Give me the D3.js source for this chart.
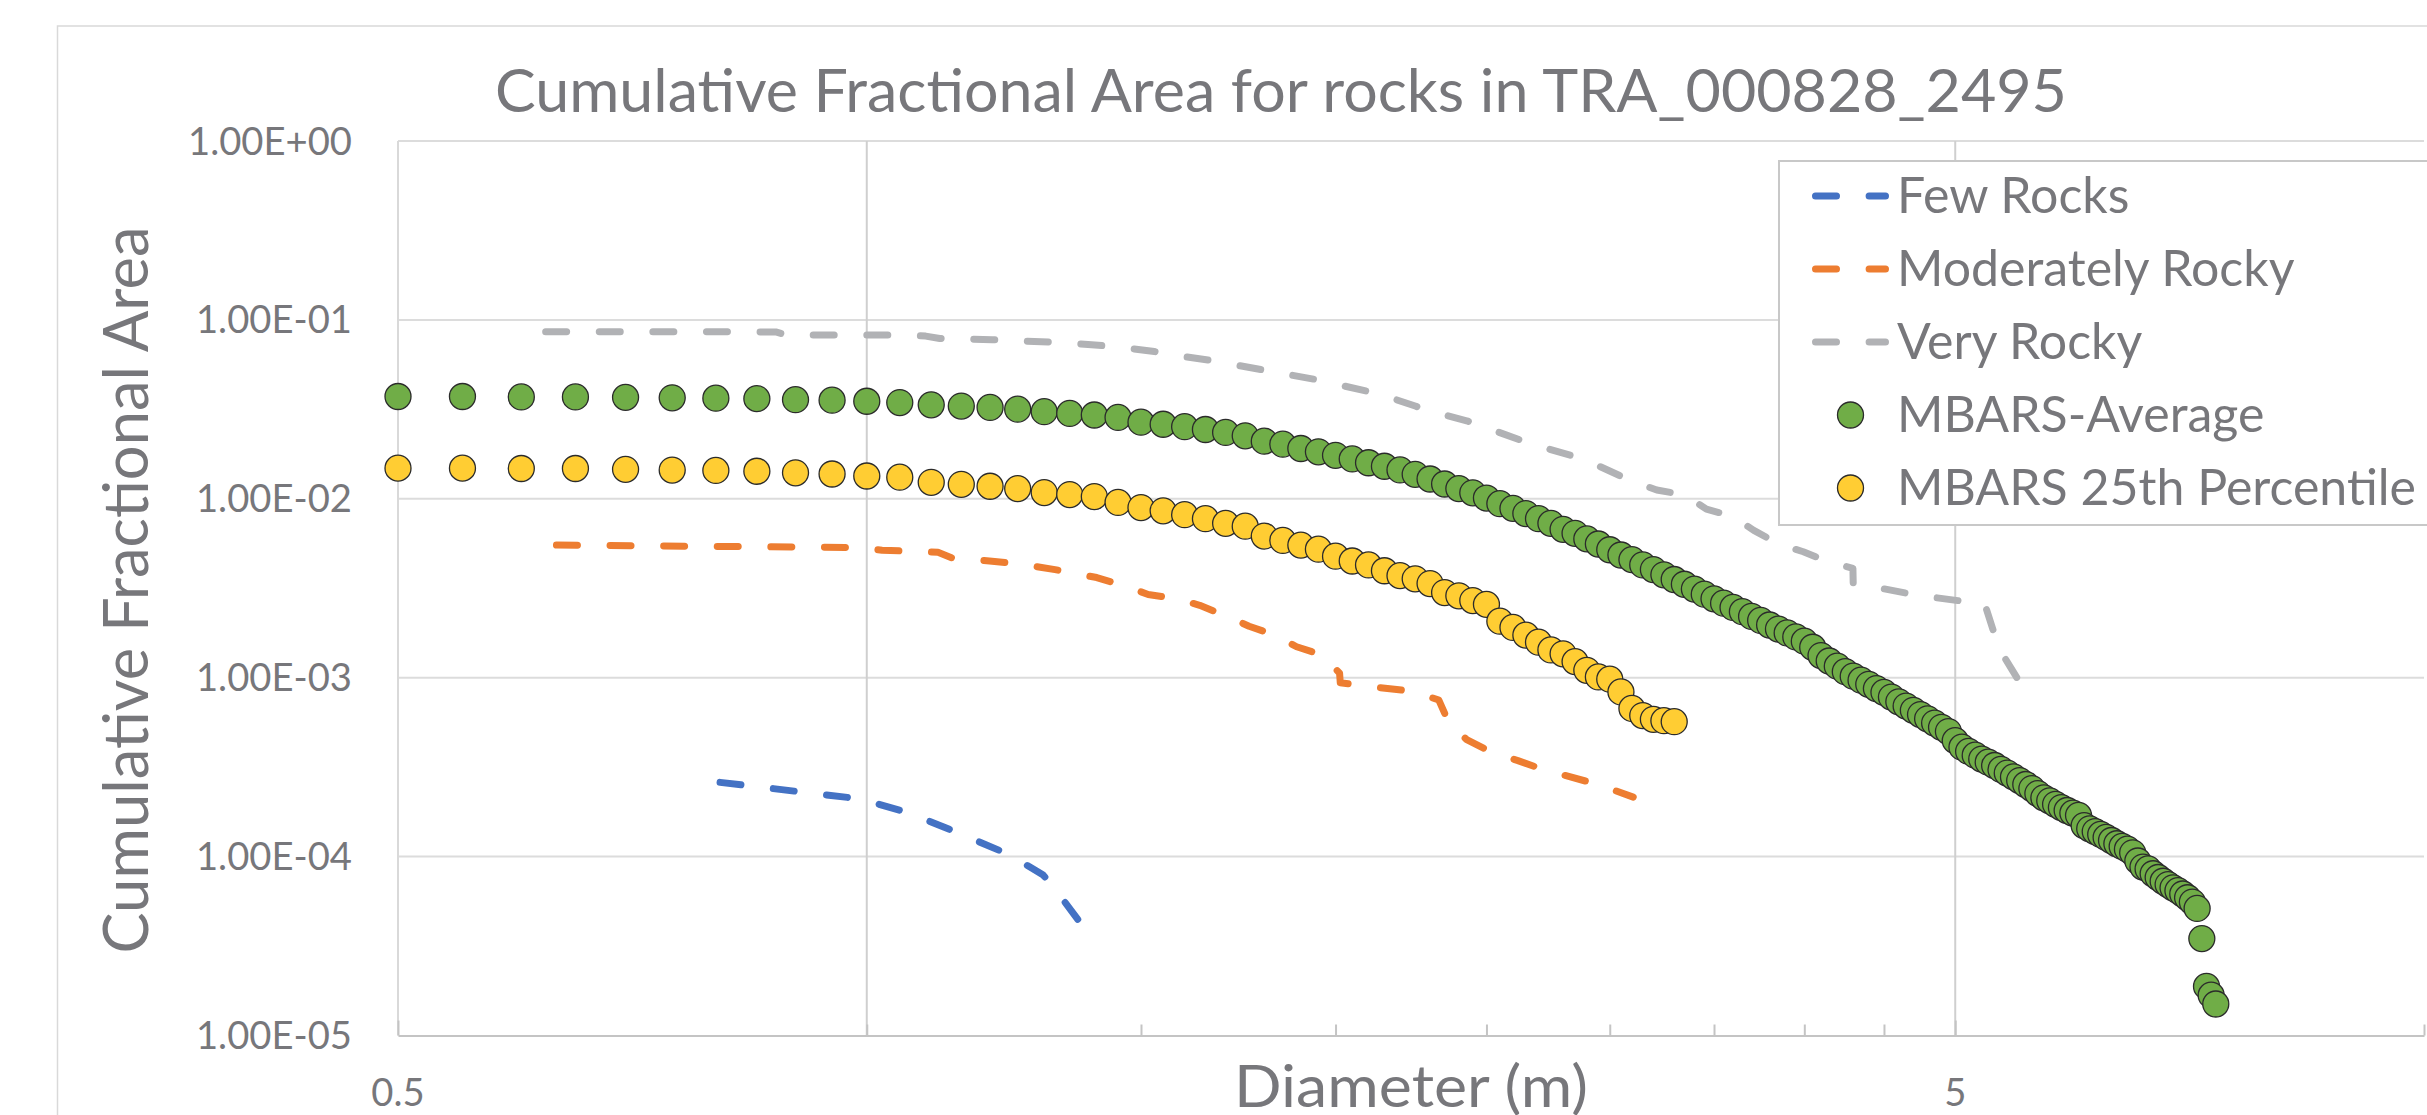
<!DOCTYPE html>
<html>
<head>
<meta charset="utf-8">
<script src="https://cdn.jsdelivr.net/npm/d3@7"></script>
<style>
  html, body { margin: 0; padding: 0; background: #fff; }
  svg { display: block; }
</style>
</head>
<body>
<svg id="chart" width="2427" height="1115"></svg>
<script>
// Cumulative fractional area for rocks in TRA_000828_2495 (log-log)

// diameter bins (m) used by both MBARS series
const binDiameters = [
  0.5, 0.55, 0.6, 0.65, 0.7, 0.75, 0.8, 0.85, 0.9, 0.95,
  1.0, 1.05, 1.1, 1.15, 1.2, 1.25, 1.3, 1.35, 1.4, 1.45,
  1.5, 1.55, 1.6, 1.65, 1.7, 1.75, 1.8, 1.85, 1.9, 1.95,
  2.0, 2.05, 2.1, 2.15, 2.2, 2.25, 2.3, 2.35, 2.4, 2.45,
  2.5, 2.55, 2.6, 2.65, 2.7, 2.75, 2.8, 2.85, 2.9, 2.95,
  3.0, 3.05, 3.1, 3.15, 3.2, 3.25, 3.3, 3.35, 3.4, 3.45,
  3.5, 3.55, 3.6, 3.65, 3.7, 3.75, 3.8, 3.85, 3.9, 3.95,
  4.0, 4.05, 4.1, 4.15, 4.2, 4.25, 4.3, 4.35, 4.4, 4.45,
  4.5, 4.55, 4.6, 4.65, 4.7, 4.75, 4.8, 4.85, 4.9, 4.95,
  5.0, 5.05, 5.1, 5.15, 5.2, 5.25, 5.3, 5.35, 5.4, 5.45,
  5.5, 5.55, 5.6, 5.65, 5.7, 5.75, 5.8, 5.85, 5.9, 5.95,
  6.0, 6.05, 6.1, 6.15, 6.2, 6.25, 6.3, 6.35, 6.4, 6.45,
  6.5, 6.55, 6.6, 6.65, 6.7, 6.75, 6.8, 6.85, 6.9, 6.95,
  7.0, 7.05, 7.1, 7.15, 7.2, 7.25, 7.3, 7.35
];

const mbarsAverage = [
  0.0373, 0.0373, 0.0371, 0.0371, 0.0369, 0.0367, 0.0365, 0.0363, 0.0358, 0.0356,
  0.0351, 0.0345, 0.0335, 0.0330, 0.0324, 0.0317, 0.0307, 0.0300, 0.0294, 0.0285,
  0.0268, 0.0261, 0.0253, 0.0244, 0.0235, 0.0225, 0.0210, 0.0202, 0.0191, 0.0183,
  0.0175, 0.0167, 0.0159, 0.0152, 0.0145, 0.0137, 0.0129, 0.0121, 0.0114, 0.0108,
  0.0101, 0.00939, 0.00884, 0.00827, 0.00774, 0.00729, 0.00675, 0.00641, 0.00597, 0.00559,
  0.00519, 0.00485, 0.00457, 0.00427, 0.00402, 0.00376, 0.00354, 0.00333, 0.00313, 0.00293,
  0.00276, 0.00261, 0.00247, 0.00234, 0.00220, 0.00209, 0.00197, 0.00187, 0.00178, 0.00169,
  0.00160, 0.00148, 0.00133, 0.00124, 0.00116, 0.00108, 0.00102, 0.000969, 0.000918, 0.000869,
  0.000828, 0.000779, 0.000733, 0.000694, 0.000657, 0.000622, 0.000589, 0.000558, 0.000528, 0.000500,
  0.000445, 0.000409, 0.000387, 0.000369, 0.000351, 0.000337, 0.000323, 0.000307, 0.000293, 0.000279,
  0.000266, 0.000253, 0.000240, 0.000225, 0.000213, 0.000205, 0.000196, 0.000188, 0.000181, 0.000175,
  0.000170, 0.000149, 0.000143, 0.000138, 0.000133, 0.000128, 0.000123, 0.000118, 0.000114, 0.000110,
  0.000105, 0.0000945, 0.0000874, 0.0000853, 0.0000802, 0.0000764, 0.0000728, 0.0000698, 0.0000669, 0.0000645,
  0.0000618, 0.0000589, 0.0000557, 0.0000513, 0.0000348, 0.0000188, 0.0000168, 0.0000150
];

const mbars25th = [
  0.01484, 0.01484, 0.01477, 0.01477, 0.01462, 0.01447, 0.01440, 0.01426, 0.01397, 0.01376,
  0.01341, 0.01321, 0.01236, 0.01205, 0.01175, 0.01140, 0.01083, 0.01056, 0.01029, 0.00954,
  0.00893, 0.00857, 0.00815, 0.00774, 0.00729, 0.00703, 0.00619, 0.00585, 0.00551, 0.00523,
  0.00478, 0.00449, 0.00427, 0.00396, 0.00372, 0.00357, 0.00336, 0.00299, 0.00287, 0.00270,
  0.00257, 0.00207, 0.00191, 0.00173, 0.00158, 0.00143, 0.00136, 0.00123, 0.00110, 0.00101,
  0.000981, 0.000833, 0.000673, 0.000614, 0.000585, 0.000575, 0.000568
];

// model curves (diameter, cumulative fractional area)
const fewRocksD = [0.805, 0.982, 0.991, 1.063, 1.144, 1.230, 1.276, 1.298, 1.314, 1.377];
const fewRocksA = [2.60e-4, 2.12e-4, 2.10e-4, 1.76e-4, 1.36e-4, 1.04e-4, 8.63e-5, 7.88e-5, 7.01e-5, 4.07e-5];

const moderateD = [0.632, 0.982, 1.023, 1.111, 1.134, 1.199, 1.25, 1.321, 1.352, 1.405,
  1.460, 1.516, 1.579, 1.636, 1.704, 1.760, 1.828, 1.888, 1.961, 2.012,
  2.014, 2.073, 2.243, 2.330, 2.365, 2.428, 2.522, 2.619, 2.721, 2.944, 3.106];
const moderateA = [5.51e-3, 5.34e-3, 5.16e-3, 5.02e-3, 4.68e-3, 4.49e-3, 4.34e-3, 4.02e-3, 3.86e-3, 3.63e-3,
  3.28e-3, 2.92e-3, 2.77e-3, 2.54e-3, 2.20e-3, 1.94e-3, 1.73e-3, 1.49e-3, 1.34e-3, 1.06e-3,
  9.38e-4, 9.05e-4, 8.39e-4, 7.50e-4, 5.58e-4, 4.51e-4, 3.81e-4, 3.44e-4, 3.06e-4, 2.54e-4, 2.15e-4];

const veryRockyD = [0.622, 0.874, 0.887, 1.050, 1.091, 1.114, 1.204, 1.230, 1.333, 1.387,
  1.444, 1.530, 1.561, 1.660, 1.828, 1.938, 2.132, 2.250, 2.296, 2.428,
  2.678, 2.885, 3.096, 3.216, 3.354, 3.461, 3.597, 3.712, 3.857, 3.994,
  4.150, 4.298, 4.300, 4.389, 4.739, 5.134, 5.225, 5.334, 5.543];
const veryRockyA = [0.0858, 0.0857, 0.0824, 0.0824, 0.0812, 0.0787, 0.0775, 0.0767, 0.0748, 0.0729,
  0.0708, 0.0666, 0.0642, 0.0595, 0.0511, 0.0466, 0.0386, 0.0330, 0.0310, 0.0273,
  0.0201, 0.0167, 0.0126, 0.0112, 0.0105, 0.00875, 0.00799, 0.00666, 0.00555, 0.00506,
  0.00443, 0.00409, 0.00335, 0.00327, 0.00288, 0.00263, 0.00256, 0.00146, 0.000843];

const yTicks = [1, 1e-1, 1e-2, 1e-3, 1e-4, 1e-5];
const xLabelTicks = [0.5, 5];
const xGridTicks = [1, 5];
const xMinorTicks = [1, 1.5, 2, 2.5, 3, 3.5, 4, 4.5, 10];

const legendNames = ["Few Rocks", "Moderately Rocky", "Very Rocky", "MBARS-Average", "MBARS 25th Percentile"];

const FONT = "Lato, 'Open Sans', sans-serif";
const CAP = 0.7165; // Lato cap height / em
const TEXT = "#77777b";
const colors = {
  few: "#4472c4",
  moderate: "#ed7d31",
  very: "#b1b2b5",
  average: "#70ad47",
  p25: "#ffcd33"
};

const svg = d3.select("#chart");

const x = d3.scaleLog().domain([0.5, 10]).range([398, 2424]);
const y = d3.scaleLog().domain([1e-5, 1]).range([1035.5, 141]);

// size text by cap height, then squeeze horizontally to the source width
// (the original uses a condensed Office font)
const squeeze = (sel, capPx, widthPx) => {
  sel.attr("font-size", capPx / CAP);
  const w = sel.node().getComputedTextLength();
  return widthPx / w;
};

// chart area border (cropped on the right/bottom like the source)
svg.append("rect")
  .attr("x", 57.5).attr("y", 26)
  .attr("width", 2600).attr("height", 1300)
  .attr("fill", "#fff")
  .attr("stroke", "#d9d9d9")
  .attr("stroke-width", 1.5);

// horizontal gridlines
svg.append("g")
  .selectAll("line")
  .data(yTicks.filter(d => d > 1e-5))
  .join("line")
  .attr("x1", x(0.5)).attr("x2", x(10))
  .attr("y1", d => y(d)).attr("y2", d => y(d))
  .attr("stroke", "#dcdcdc")
  .attr("stroke-width", 2);

// vertical gridlines + left axis line
svg.append("g")
  .selectAll("line")
  .data([0.5, ...xGridTicks])
  .join("line")
  .attr("x1", d => x(d)).attr("x2", d => x(d))
  .attr("y1", y(1)).attr("y2", y(1e-5))
  .attr("stroke", d => d === 0.5 ? "#d9d9d9" : "#cfcfcf")
  .attr("stroke-width", 2);

// bottom axis with inward ticks
const xAxisG = svg.append("g")
  .attr("transform", `translate(0,${y(1e-5)})`)
  .call(d3.axisTop(x).tickValues(xMinorTicks).tickSize(11).tickSizeOuter(0).tickFormat(""));
xAxisG.append("g")
  .call(d3.axisTop(x).tickValues(xLabelTicks).tickSize(15).tickSizeOuter(0).tickFormat(""))
  .select(".domain").remove();
xAxisG.selectAll(".domain").attr("stroke", "#c4c4c4").attr("stroke-width", 2);
xAxisG.selectAll(".tick line").attr("stroke", "#c4c4c4").attr("stroke-width", 2);

// y tick labels
const yFmt = v => {
  const e = Math.round(Math.log10(v));
  return "1.00E" + (e < 0 ? "-" : "+") + String(Math.abs(e)).padStart(2, "0");
};
const yLabels = svg.append("g")
  .selectAll("text")
  .data(yTicks)
  .join("text")
  .attr("dy", "0.36em")
  .attr("text-anchor", "end")
  .attr("font-family", FONT)
  .attr("fill", TEXT)
  .text(yFmt);
const tickRatio = squeeze(yLabels.filter(d => d === 1e-1), 27, 156);
yLabels
  .attr("font-size", 27 / CAP)
  .attr("transform", d => `translate(352,${y(d)}) scale(${tickRatio},1)`);

// x tick labels
svg.append("g")
  .selectAll("text")
  .data(xLabelTicks)
  .join("text")
  .attr("transform", d => `translate(${x(d)},1106) scale(${tickRatio},1)`)
  .attr("text-anchor", "middle")
  .attr("font-family", FONT)
  .attr("font-size", 27 / CAP)
  .attr("fill", TEXT)
  .text(d => d);

// title and axis titles
const title = svg.append("text")
  .attr("text-anchor", "middle")
  .attr("font-family", FONT)
  .attr("fill", TEXT)
  .text("Cumulative Fractional Area for rocks in TRA_000828_2495");
const tRatio = squeeze(title, 43, 1572);
title.attr("transform", `translate(1281,112) scale(${tRatio},1)`);

const yTitle = svg.append("text")
  .attr("text-anchor", "middle")
  .attr("font-family", FONT)
  .attr("fill", TEXT)
  .text("Cumulative Fractional Area");
const ytRatio = squeeze(yTitle, 45, 727);
yTitle.attr("transform", `translate(148,590) rotate(-90) scale(${ytRatio},1)`);

const xTitle = svg.append("text")
  .attr("text-anchor", "middle")
  .attr("font-family", FONT)
  .attr("fill", TEXT)
  .text("Diameter (m)");
const xtRatio = squeeze(xTitle, 41, 354);
xTitle.attr("transform", `translate(1411,1107) scale(${xtRatio},1)`);

// dashed model curves
const line = d3.line()
  .x(d => x(d[0]))
  .y(d => y(d[1]));

const curves = [
  { key: "few", pts: d3.zip(fewRocksD, fewRocksA) },
  { key: "moderate", pts: d3.zip(moderateD, moderateA) },
  { key: "very", pts: d3.zip(veryRockyD, veryRockyA) }
];

const DASH = "21 32.6";
svg.append("g")
  .selectAll("path")
  .data(curves)
  .join("path")
  .attr("d", d => line(d.pts))
  .attr("fill", "none")
  .attr("stroke", d => colors[d.key])
  .attr("stroke-width", 7)
  .attr("stroke-linecap", "round")
  .attr("stroke-linejoin", "round")
  .attr("stroke-dasharray", DASH);

// MBARS markers
const R = 13;
const drawDots = (values, color) => {
  svg.append("g")
    .selectAll("circle")
    .data(values.map((v, i) => [binDiameters[i], v]))
    .join("circle")
    .attr("cx", d => x(d[0]))
    .attr("cy", d => y(d[1]))
    .attr("r", R)
    .attr("fill", color)
    .attr("stroke", "#2b2b2b")
    .attr("stroke-width", 1.3);
};
drawDots(mbarsAverage, colors.average);
drawDots(mbars25th, colors.p25);

// legend
const legend = svg.append("g");
legend.append("rect")
  .attr("x", 1779).attr("y", 161)
  .attr("width", 800).attr("height", 364)
  .attr("fill", "#fff")
  .attr("stroke", "#c8c8c8")
  .attr("stroke-width", 2);

const legendKeys = ["few", "moderate", "very", "average", "p25"];
const rowY = [196, 269, 342, 415, 488];

legendKeys.forEach((k, i) => {
  if (i < 3) {
    legend.append("line")
      .attr("x1", 1815.5).attr("x2", 1885.5)
      .attr("y1", rowY[i]).attr("y2", rowY[i])
      .attr("stroke", colors[k])
      .attr("stroke-width", 7)
      .attr("stroke-linecap", "round")
      .attr("stroke-dasharray", DASH);
  } else {
    legend.append("circle")
      .attr("cx", 1850.5).attr("cy", rowY[i])
      .attr("r", R)
      .attr("fill", colors[k])
      .attr("stroke", "#2b2b2b")
      .attr("stroke-width", 1.3);
  }
});

const legendText = legend.selectAll("text.lbl")
  .data(legendNames)
  .join("text")
  .attr("class", "lbl")
  .attr("font-family", FONT)
  .attr("fill", TEXT)
  .text(d => d);
const legRatio = squeeze(legendText.filter(d => d === "MBARS 25th Percentile"), 35.5, 519);
legendText
  .attr("font-size", 35.5 / CAP)
  .attr("transform", (d, i) => `translate(1897,${rowY[i] + 17}) scale(${legRatio},1)`);
</script>
</body>
</html>
